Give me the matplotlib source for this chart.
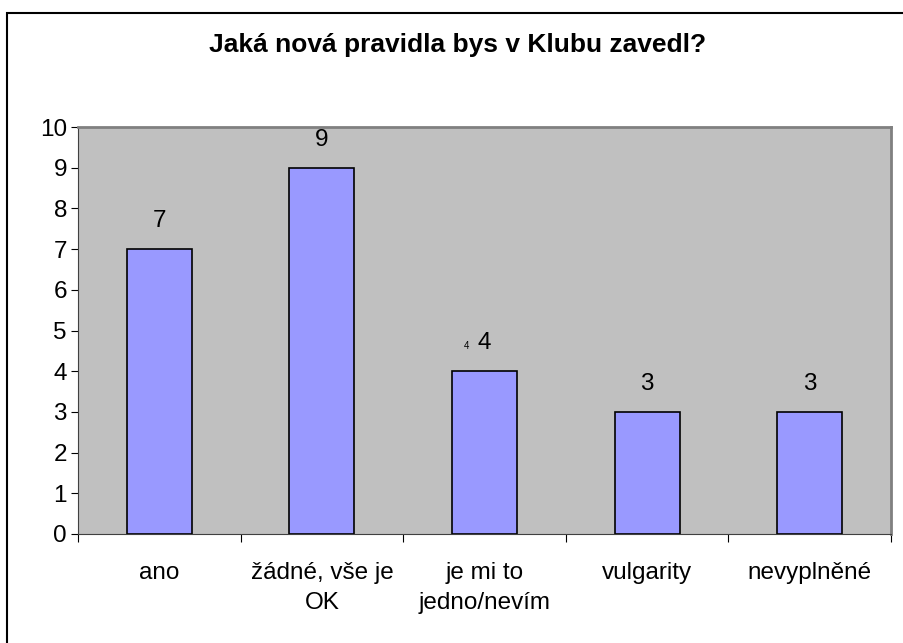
import matplotlib.pyplot as plt
from matplotlib.patches import Rectangle
import numpy as np

title = 'Jaká nová pravidla bys v Klubu zavedl?'
categories = ['ano', 'žádné, vše je\nOK', 'je mi to\njedno/nevím', 'vulgarity', 'nevyplněné']
values = [7, 9, 4, 3, 3]

plt.rcParams['font.family'] = ['Liberation Sans', 'DejaVu Sans']

fig = plt.figure(figsize=(9.04, 6.43), dpi=100)
fig.patches.append(Rectangle((7 / 904, -0.1), 1.1, (643 - 13) / 643 + 0.1,
                             transform=fig.transFigure, fill=False,
                             edgecolor='black', linewidth=1.5))

ax = fig.add_axes([78 / 904, (643 - 534) / 643, (891 - 78) / 904, (534 - 127) / 643])
ax.set_facecolor('#C0C0C0')

x = np.arange(len(values))
ax.bar(x, values, width=0.4, color='#9999FF', edgecolor='black', linewidth=1.2, zorder=2)

for xi, v in zip(x, values):
    ax.text(xi, v + 0.42, str(v), ha='center', va='bottom', fontsize=17.5)
# small stray label next to the "4"
ax.text(x[2] - 0.11, values[2] + 0.5, '4', ha='center', va='bottom', fontsize=7)

ax.set_xlim(-0.5, len(values) - 0.5)
ax.set_ylim(0, 10)
ax.set_yticks(range(0, 11))
ax.tick_params(axis='y', labelsize=17.5, length=5, direction='out', pad=3)

ax.set_xticks(np.arange(len(values) + 1) - 0.5)
ax.set_xticklabels([])
ax.tick_params(axis='x', which='major', length=6, direction='out')
ax.set_xticks(x, minor=True)
ax.set_xticklabels(categories, minor=True, fontsize=17.5)
ax.tick_params(axis='x', which='minor', length=0, pad=20)
for lbl in ax.get_xticklabels(minor=True):
    lbl.set_linespacing(1.5)

for side in ['top', 'right']:
    ax.spines[side].set_color('#808080')
    ax.spines[side].set_linewidth(2)
ax.spines['left'].set_color('#404040')
ax.spines['bottom'].set_color('#404040')

fig.text(458 / 904, 1 - 45 / 643, title, ha='center', va='center',
         fontsize=19, fontweight='bold')

fig.savefig('out.png', dpi=100)
